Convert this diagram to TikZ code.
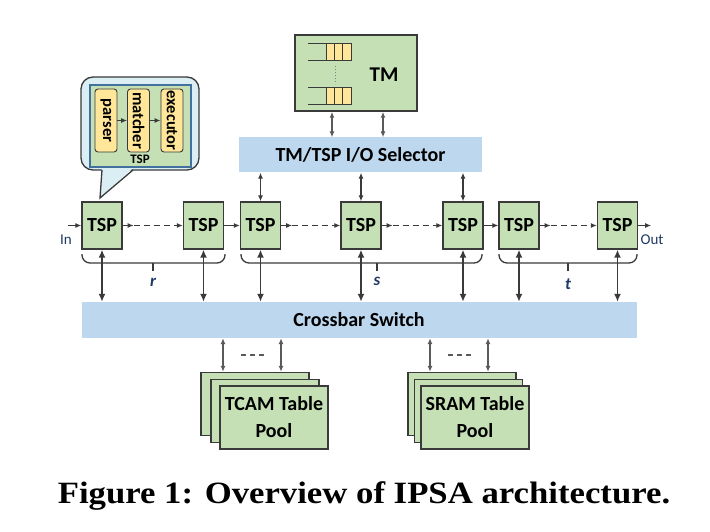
\documentclass[tikz,border=0pt]{standalone}
\usepackage{fontspec}
\setmainfont{Carlito}
\newfontfamily\capfont{Liberation Serif}
\usetikzlibrary{arrows.meta,positioning}
\definecolor{tspgreen}{HTML}{C5E0B4}
\definecolor{barblue}{HTML}{BDD7EE}
\definecolor{stageyellow}{HTML}{FFE699}
\definecolor{bubblecyan}{HTML}{DAEEF3}
\definecolor{edgegray}{HTML}{3A3A3A}
\definecolor{shaftgray}{HTML}{5A5A5A}
\definecolor{labelblue}{HTML}{1F3864}
\definecolor{innerblue}{HTML}{41719C}
\tikzset{
  tsp/.style={draw=edgegray,line width=1.3pt,fill=tspgreen,minimum width=40pt,
    minimum height=47pt,inner sep=0pt,font=\fontsize{20}{24}\selectfont\bfseries},
  bar/.style={fill=barblue,inner sep=0pt,font=\fontsize{20}{24}\selectfont\bfseries},
  pool/.style={draw=edgegray,line width=1.3pt,fill=tspgreen,minimum width=108pt,
    minimum height=63pt,inner sep=0pt,align=center,
    font=\fontsize{20}{27}\selectfont\bfseries},
  stage/.style={draw=edgegray,line width=0.9pt,fill=stageyellow,rounded corners=3pt,
    rotate=-90,minimum width=63pt,minimum height=22pt,inner sep=0pt,
    font=\fontsize{16.5}{19}\selectfont\bfseries},
  flow/.style={-{Latex[length=6pt,width=5pt]},edgegray,line width=1.1pt},
  gap/.style={dash pattern=on 6pt off 4pt},
  link/.style={{Latex[length=8pt,width=7pt]}-{Latex[length=8pt,width=7pt]},
    edgegray,line width=1.6pt},
  thinlink/.style={{Latex[length=6pt,width=5pt]}-{Latex[length=6pt,width=5pt]},
    shaftgray,line width=1.2pt},
  brace/.style={edgegray,line width=1.3pt,rounded corners=8pt},
  grp/.style={text=labelblue,font=\fontsize{17}{20}\selectfont\bfseries\itshape},
  io/.style={text=labelblue,font=\fontsize{15}{18}\selectfont},
}
\begin{document}
\begin{tikzpicture}[x=1pt,y=-1pt]
        \useasboundingbox (0,0) rectangle (710,532);

        % callout with the inside of a TSP
        \draw[edgegray,line width=1.3pt,fill=bubblecyan,rounded corners=12pt]
          (81,77) rectangle (199,170);
        \fill[bubblecyan] (102,168) -- (133,168) -- (100,198) -- cycle;
        \draw[edgegray,line width=1.3pt] (102,170) -- (100,198) -- (133,170);
        \draw[innerblue,line width=1.2pt,fill=tspgreen] (90,85) rectangle (191,167);
        \node[stage] (parser) at (106,120.5) {parser};
        \node[stage] (matcher) at (138.5,120.5) {matcher};
        \node[stage] (executor) at (172,120.5) {executor};
        \draw[flow] (parser) -- (matcher);
        \draw[flow] (matcher) -- (executor);
        \node (tsplabel) at (140,159) [font=\fontsize{13}{15}\selectfont\bfseries] {TSP};

        % traffic manager
        \node[draw=edgegray,line width=1.5pt,fill=tspgreen,minimum width=122pt,
          minimum height=76pt] (tm) at (356,73) {};
        \node (tmlabel) at (384,75) [font=\fontsize{21}{24}\selectfont\bfseries] {TM};
        \fill[stageyellow] (326,44) rectangle (351,61);
        \fill[stageyellow] (326,88) rectangle (351,105);
        \draw[edgegray,line width=1pt] (308,44) -- (351,44) -- (351,61) -- (308,61);
        \draw[edgegray,line width=1pt] (326,44) -- (326,61) (334.3,44) -- (334.3,61)
          (342.7,44) -- (342.7,61);
        \draw[edgegray,line width=1pt] (308,88) -- (351,88) -- (351,105) -- (308,105);
        \draw[edgegray,line width=1pt] (326,88) -- (326,105) (334.3,88) -- (334.3,105)
          (342.7,88) -- (342.7,105);
        \draw[gray,line width=1pt,dotted] (335,66) -- (335,84);

        % selector and crossbar
        \node[bar,minimum width=243pt,minimum height=35pt] (sel) at (360.5,155)
          {TM/TSP I/O Selector};
        \node[bar,minimum width=555pt,minimum height=36pt] (xbar) at (359,320)
          {Crossbar Switch};
        \draw[thinlink] ([xshift=-24pt]tm.south) -- ([xshift=-24pt]tm.south |- sel.north);
        \draw[thinlink] ([xshift=27pt]tm.south) -- ([xshift=27pt]tm.south |- sel.north);

        % the TSP chain
        \node[tsp] (t1) at (102,225.5) {TSP};
        \node[tsp] (t2) at (203.5,225.5) {TSP};
        \node[tsp] (t3) at (260.5,225.5) {TSP};
        \node[tsp] (t4) at (361,225.5) {TSP};
        \node[tsp] (t5) at (463,225.5) {TSP};
        \node[tsp] (t6) at (519,225.5) {TSP};
        \node[tsp] (t7) at (617.5,225.5) {TSP};

        \draw[flow] ([xshift=-13pt]t1.west) coordinate (in) -- (t1.west);
        \node[io] (inlabel) at (66,240) {In};
        \draw[flow] (t1.east) -- ++(11pt,0) coordinate (d1);
        \draw[flow,gap] (d1) -- (t2.west);
        \draw[flow] (t2) -- (t3);
        \draw[flow] (t3.east) -- ++(11pt,0) coordinate (d3);
        \draw[flow,gap] (d3) -- (t4.west);
        \draw[flow] (t4.east) -- ++(11pt,0) coordinate (d4);
        \draw[flow,gap] (d4) -- (t5.west);
        \draw[flow] (t5) -- (t6);
        \draw[flow] (t6.east) -- ++(11pt,0) coordinate (d6);
        \draw[flow,gap] (d6) -- (t7.west);
        \draw[flow] (t7.east) -- ++(13pt,0) coordinate (out);
        \node[io] (outlabel) at (652,240) {Out};

        % groups r, s, t
        \draw[brace] (82,254) -- (82,263) -- (225,263) -- (225,254);
        \draw[brace] (241,254) -- (241,263) -- (482,263) -- (482,254);
        \draw[brace] (499,254) -- (499,263) -- (637,263) -- (637,254);
        \draw[edgegray,line width=1.3pt] (153,263) -- (153,271);
        \draw[edgegray,line width=1.3pt] (377,263) -- (377,271);
        \draw[edgegray,line width=1.3pt] (568,263) -- (568,271);
        \node[grp] (rlabel) at (153,282) {r};
        \node[grp] (slabel) at (377,281) {s};
        \node[grp] (tlabel) at (568,284) {t};

        \foreach \t in {t1,t2,t3,t4,t5,t6,t7}
          \draw[link] (\t.south) -- (\t.south |- xbar.north);
        \foreach \t in {t3,t4,t5}
          \draw[thinlink,edgegray] (\t.north |- sel.south) -- (\t.north);

        % table pools
        \node[pool] (tc1) at (255,404) {};
        \node[pool] (tc2) at (265,411) {};
        \node[pool] (tc3) at (274,417.5) {TCAM Table\\Pool};
        \node[pool] (sr1) at (462,404) {};
        \node[pool] (sr2) at (468.5,411) {};
        \node[pool] (sr3) at (475,417.5) {SRAM Table\\Pool};
        \draw[thinlink] ([xshift=-32pt]tc1.north) -- ([xshift=-32pt]tc1.north |- xbar.south);
        \draw[thinlink] ([xshift=26pt]tc1.north) -- ([xshift=26pt]tc1.north |- xbar.south);
        \draw[thinlink] ([xshift=-32pt]sr1.north) -- ([xshift=-32pt]sr1.north |- xbar.south);
        \draw[thinlink] ([xshift=26pt]sr1.north) -- ([xshift=26pt]sr1.north |- xbar.south);
        \draw[shaftgray,line width=1.2pt,dash pattern=on 5pt off 4pt] (241,355) -- (266,355);
        \draw[shaftgray,line width=1.2pt,dash pattern=on 5pt off 4pt] (448,355) -- (473,355);

        \node (caption) at (364,496) [font=\capfont\bfseries\fontsize{31}{36}\selectfont]
          {\scalebox{1.12}[1]{Figure 1: Overview of IPSA architecture.}};
\end{tikzpicture}
\end{document}
